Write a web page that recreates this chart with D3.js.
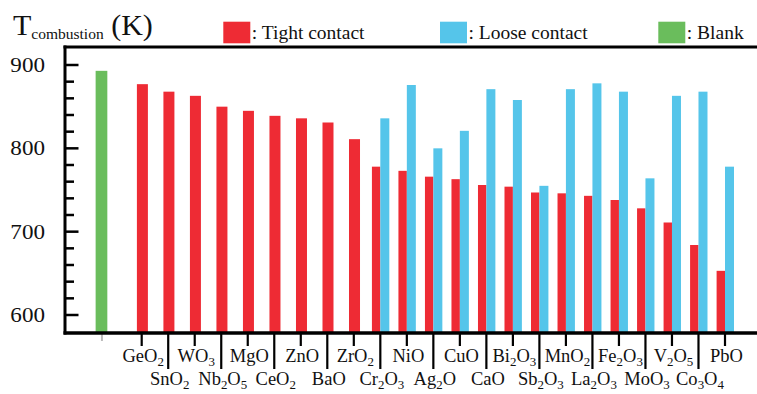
<!DOCTYPE html>
<html><head><meta charset="utf-8">
<script src="https://cdn.jsdelivr.net/npm/d3@7"></script>
<style>body{margin:0;background:#fff}svg{display:block}text{font-family:"Liberation Serif","Times New Roman",serif;fill:#111}</style>
</head><body>
<svg id="c" width="757" height="394" font-family="Liberation Serif, Times New Roman, serif"></svg>
<script>
const blankLabel = "Blank";
const blankValue = 893;
const categories = ["GeO2","SnO2","WO3","Nb2O5","MgO","CeO2","ZnO","BaO","ZrO2","Cr2O3","NiO","Ag2O","CuO","CaO","Bi2O3","Sb2O3","MnO2","La2O3","Fe2O3","MoO3","V2O5","Co3O4","PbO"];
const tight = [877,868,863,850,845,839,836,831,811,778,773,766,763,756,754,747,746,743,738,728,711,684,653];
const loose = [null,null,null,null,null,null,null,null,null,836,876,800,821,871,858,755,871,878,868,764,863,868,778];
const yTicks = [600,700,800,900];
const yMinor = [620,640,660,680,720,740,760,780,820,840,860,880];
const legendItems = [{name:"Tight contact",key:"tight"},{name:"Loose contact",key:"loose"},{name:"Blank",key:"blank"}];
const colors = {tight:"#ee2b34", loose:"#55c5ea", blank:"#6abd5c"};

const svg = d3.select("#c");
const x = d3.scaleLinear().domain([0, categories.length-1]).range([141.7, 725]);
const y = d3.scaleLinear().domain([578.4, 921.6]).range([333, 47]);
const base = y.range()[0];

function addChem(sel, s){
  const parts = s.match(/(\d+|\D+)/g);
  let shifted = false;
  parts.forEach(p=>{
    if(/\d/.test(p)){
      sel.append("tspan").attr("font-size","0.7em").attr("dy","0.28em").text(p);
      shifted = true;
    } else {
      const t = sel.append("tspan").text(p);
      if(shifted){ t.attr("dy","-0.2em"); shifted = false; }
    }
  });
}

// bars
const g = svg.append("g");
g.append("rect").attr("x", x(-1.5)-6.3).attr("width",11.7)
 .attr("y", y(blankValue)).attr("height", base - y(blankValue)).attr("fill", colors.blank);
categories.forEach((c,i)=>{
  const cx = x(i);
  if(loose[i]==null){
    g.append("rect").attr("x", cx-4.8).attr("width",11).attr("y", y(tight[i])).attr("height", base-y(tight[i])).attr("fill", colors.tight);
  } else {
    g.append("rect").attr("x", cx-8.4).attr("width",8.4).attr("y", y(tight[i])).attr("height", base-y(tight[i])).attr("fill", colors.tight);
    g.append("rect").attr("x", cx).attr("width",9).attr("y", y(loose[i])).attr("height", base-y(loose[i])).attr("fill", colors.loose);
  }
});

// y axis ticks (inward)
const ax = svg.append("g");
yTicks.forEach(v=>{
  ax.append("line").attr("x1",65).attr("x2",78.5).attr("y1",y(v)).attr("y2",y(v)).attr("stroke","#000").attr("stroke-width",2.5);
  ax.append("text").attr("x",45).attr("y",y(v)+7).attr("text-anchor","end").attr("font-size",21)
    .attr("transform",`translate(45,0) scale(1.1,1) translate(-45,0)`).text(v);
});
yMinor.forEach(v=>{
  ax.append("line").attr("x1",65).attr("x2",74).attr("y1",y(v)).attr("y2",y(v)).attr("stroke","#000").attr("stroke-width",2.5);
});

// x ticks & labels
ax.append("line").attr("x1",x(-1.5)).attr("x2",x(-1.5)).attr("y1",333).attr("y2",341).attr("stroke","#bbb").attr("stroke-width",2);
categories.forEach((c,i)=>{
  const cx = x(i);
  const low = i%2===1;
  ax.append("line").attr("x1",cx).attr("x2",cx).attr("y1",333).attr("y2", low?369:346).attr("stroke","#000").attr("stroke-width",2.2);
  const t = ax.append("text").attr("x",cx+1.5).attr("y", low?385:362).attr("text-anchor","middle").attr("font-size",18.5);
  addChem(t, c);
});

// frame
svg.append("line").attr("x1",65).attr("x2",65).attr("y1",45.5).attr("y2",334.5).attr("stroke","#000").attr("stroke-width",3);
svg.append("line").attr("x1",63.5).attr("x2",757).attr("y1",47).attr("y2",47).attr("stroke","#000").attr("stroke-width",3);
svg.append("line").attr("x1",63.5).attr("x2",757).attr("y1",333).attr("y2",333).attr("stroke","#000").attr("stroke-width",3.5);

// title
const title = svg.append("text").attr("x",13).attr("y",35).attr("font-size",30);
title.append("tspan").text("T");
title.append("tspan").attr("font-size",15.5).attr("dy",4).text("combustion");
title.append("tspan").attr("dy",-4).text(" (K)");

// legend
const legX = {tight:223.3, loose:440, blank:658.3};
legendItems.forEach(it=>{
  svg.append("rect").attr("x",legX[it.key]).attr("y",21.7).attr("width",27).attr("height",21.6).attr("fill",colors[it.key]);
  svg.append("text").attr("x",legX[it.key]+28.5).attr("y",39).attr("font-size",19.5).text(": "+it.name);
});
</script>
</body></html>
